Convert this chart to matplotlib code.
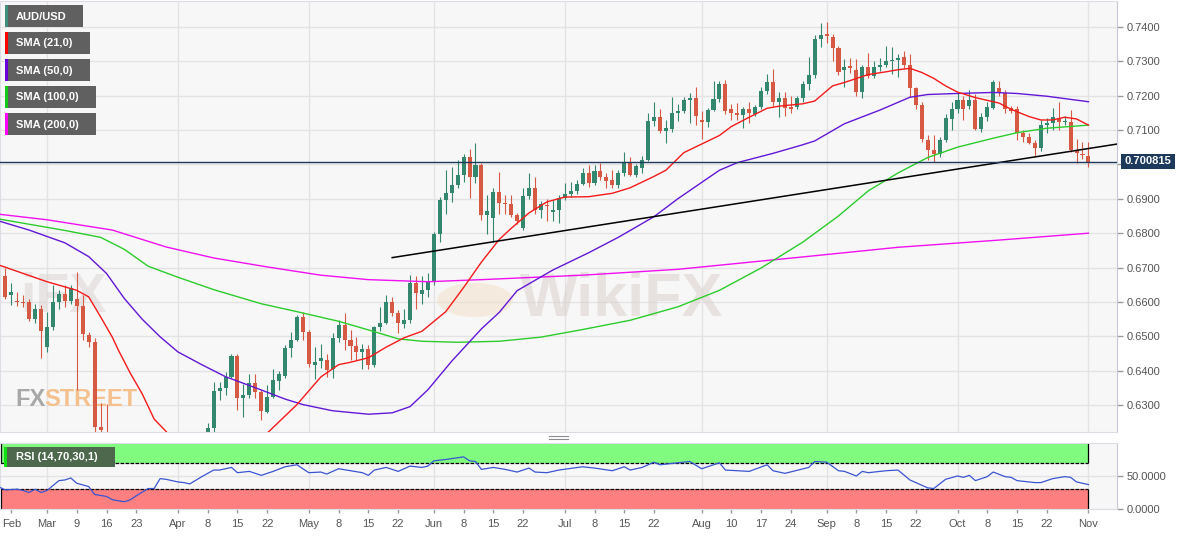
import numpy as np
import pandas as pd
import matplotlib
matplotlib.use('Agg')
import matplotlib.pyplot as plt
from matplotlib.patches import Rectangle, Circle
from matplotlib.lines import Line2D

plt.rcParams['font.family'] = ['Liberation Sans', 'DejaVu Sans']

# --- AUD/USD daily candles, 19 Feb - 2 Nov 2020
dates = pd.bdate_range('2020-02-19', '2020-11-02')

opens = [0.6690, 0.6675, 0.6620, 0.6604, 0.6600, 0.6600, 0.6552, 0.6581,
         0.6470, 0.6528, 0.6600, 0.6622, 0.6602, 0.6610, 0.6588, 0.6503, 0.6484, 0.6237, 0.6180, 0.6080, 0.5960, 0.5780, 0.5790, 0.5800, 0.5830, 0.5940, 0.5900, 0.6050, 0.6150, 0.6140,
         0.6130, 0.6070, 0.6080, 0.6000, 0.6100, 0.6150, 0.6233, 0.6342, 0.6349, 0.6382, 0.6442, 0.6322, 0.6329, 0.6365, 0.6339, 0.6280, 0.6324, 0.6371, 0.6384, 0.6467, 0.6491, 0.6557,
         0.6513, 0.6416, 0.6430, 0.6431, 0.6404, 0.6494, 0.6533, 0.6491, 0.6471, 0.6455, 0.6464, 0.6416, 0.6526, 0.6539, 0.6600, 0.6567, 0.6535, 0.6547, 0.6656, 0.6623, 0.6636,
         0.6661, 0.6797, 0.6896, 0.6917, 0.6940, 0.6969, 0.7020, 0.6962, 0.6998, 0.6852, 0.6843, 0.6920, 0.6888, 0.6884, 0.6852, 0.6814, 0.6907, 0.6930, 0.6867, 0.6883, 0.6862, 0.6867,
         0.6901, 0.6913, 0.6923, 0.6942, 0.6974, 0.6946, 0.6981, 0.6964, 0.6954, 0.6940, 0.6974, 0.7008, 0.6969, 0.6988, 0.7014, 0.7127, 0.7138, 0.7098, 0.7102, 0.7148, 0.7156, 0.7187, 0.7192,
         0.7129, 0.7124, 0.7158, 0.7190, 0.7233, 0.7160, 0.7150, 0.7144, 0.7160, 0.7146, 0.7167, 0.7214, 0.7240, 0.7182, 0.7192, 0.7166, 0.7166, 0.7192, 0.7233, 0.7260, 0.7363,
         0.7378, 0.7371, 0.7337, 0.7274, 0.7285, 0.7274, 0.7211, 0.7282, 0.7257, 0.7282, 0.7289, 0.7300, 0.7304, 0.7311, 0.7289, 0.7221, 0.7172, 0.7070, 0.7041, 0.7030, 0.7070, 0.7131,
         0.7160, 0.7187, 0.7169, 0.7187, 0.7102, 0.7138, 0.7163, 0.7221, 0.7208, 0.7163, 0.7160, 0.7092, 0.7080, 0.7063, 0.7049, 0.7114, 0.7119, 0.7136, 0.7122, 0.7124, 0.7041, 0.7030,
         0.7024]
highs = [0.6702, 0.6700, 0.6654, 0.6630, 0.6620, 0.6610, 0.6595, 0.6590,
         0.6571, 0.6649, 0.6634, 0.6650, 0.6650, 0.6688, 0.6620, 0.6512, 0.6495, 0.6308, 0.6303, 0.6110, 0.6030, 0.5860, 0.5900, 0.5880, 0.5990, 0.5990, 0.6050, 0.6180, 0.6190, 0.6200,
         0.6140, 0.6120, 0.6090, 0.6110, 0.6200, 0.6247, 0.6368, 0.6368, 0.6397, 0.6448, 0.6448, 0.6363, 0.6392, 0.6390, 0.6345, 0.6358, 0.6405, 0.6401, 0.6476, 0.6513, 0.6562, 0.6570,
         0.6520, 0.6470, 0.6479, 0.6450, 0.6511, 0.6547, 0.6567, 0.6518, 0.6498, 0.6477, 0.6475, 0.6530, 0.6586, 0.6620, 0.6615, 0.6578, 0.6581, 0.6678, 0.6676, 0.6675, 0.6683,
         0.6804, 0.6905, 0.6983, 0.6993, 0.7012, 0.7030, 0.7044, 0.7063, 0.7005, 0.6910, 0.6930, 0.6978, 0.6910, 0.6910, 0.6860, 0.6930, 0.6974, 0.6964, 0.6894, 0.6900, 0.6895, 0.6910,
         0.6945, 0.6950, 0.6955, 0.6988, 0.6998, 0.6998, 0.7003, 0.6975, 0.6985, 0.6985, 0.7037, 0.7020, 0.7000, 0.7025, 0.7148, 0.7182, 0.7160, 0.7130, 0.7195, 0.7175, 0.7195, 0.7208, 0.7226,
         0.7155, 0.7165, 0.7243, 0.7243, 0.7245, 0.7175, 0.7178, 0.7167, 0.7180, 0.7172, 0.7225, 0.7264, 0.7276, 0.7210, 0.7210, 0.7198, 0.7200, 0.7243, 0.7313, 0.7375, 0.7412,
         0.7413, 0.7380, 0.7345, 0.7305, 0.7310, 0.7305, 0.7290, 0.7323, 0.7300, 0.7310, 0.7344, 0.7340, 0.7320, 0.7330, 0.7320, 0.7225, 0.7180, 0.7085, 0.7085, 0.7080, 0.7145, 0.7182,
         0.7206, 0.7200, 0.7216, 0.7205, 0.7150, 0.7180, 0.7245, 0.7243, 0.7215, 0.7170, 0.7170, 0.7100, 0.7090, 0.7070, 0.7129, 0.7135, 0.7163, 0.7182, 0.7140, 0.7158, 0.7075, 0.7065,
         0.7065]
lows = [0.6668, 0.6610, 0.6591, 0.6588, 0.6585, 0.6545, 0.6540, 0.6436,
        0.6455, 0.6518, 0.6580, 0.6585, 0.6595, 0.6344, 0.6490, 0.6470, 0.6215, 0.6160, 0.6030, 0.5950, 0.5770, 0.5510, 0.5670, 0.5690, 0.5820, 0.5860, 0.5880, 0.6020, 0.6060, 0.6060,
        0.6040, 0.6030, 0.5980, 0.5990, 0.6090, 0.6120, 0.6220, 0.6315, 0.6329, 0.6378, 0.6285, 0.6266, 0.6322, 0.6320, 0.6256, 0.6277, 0.6320, 0.6344, 0.6378, 0.6439, 0.6488, 0.6490,
        0.6410, 0.6375, 0.6407, 0.6382, 0.6380, 0.6485, 0.6460, 0.6431, 0.6431, 0.6404, 0.6405, 0.6410, 0.6515, 0.6535, 0.6560, 0.6510, 0.6525, 0.6540, 0.6580, 0.6595, 0.6615,
        0.6650, 0.6775, 0.6857, 0.6890, 0.6930, 0.6950, 0.6901, 0.6945, 0.6838, 0.6799, 0.6775, 0.6857, 0.6855, 0.6846, 0.6828, 0.6810, 0.6900, 0.6855, 0.6843, 0.6835, 0.6835, 0.6830,
        0.6895, 0.6905, 0.6915, 0.6940, 0.6935, 0.6940, 0.6955, 0.6932, 0.6932, 0.6932, 0.6965, 0.6965, 0.6962, 0.6975, 0.7010, 0.7111, 0.7090, 0.7061, 0.7095, 0.7125, 0.7150, 0.7119, 0.7115,
        0.7075, 0.7110, 0.7155, 0.7180, 0.7145, 0.7130, 0.7130, 0.7107, 0.7120, 0.7140, 0.7160, 0.7205, 0.7170, 0.7137, 0.7140, 0.7148, 0.7160, 0.7180, 0.7216, 0.7250, 0.7340,
        0.7352, 0.7300, 0.7260, 0.7226, 0.7265, 0.7200, 0.7192, 0.7250, 0.7250, 0.7270, 0.7282, 0.7264, 0.7255, 0.7280, 0.7196, 0.7160, 0.7065, 0.7012, 0.7007, 0.7020, 0.7065, 0.7100,
        0.7150, 0.7129, 0.7160, 0.7100, 0.7095, 0.7125, 0.7160, 0.7200, 0.7150, 0.7150, 0.7070, 0.7065, 0.7060, 0.7022, 0.7040, 0.7090, 0.7100, 0.7100, 0.7115, 0.7035, 0.7003, 0.7017,
        0.6991]
closes = [0.6673, 0.6615, 0.6630, 0.6600, 0.6597, 0.6552, 0.6579, 0.6516,
          0.6527, 0.6601, 0.6622, 0.6602, 0.6640, 0.6588, 0.6506, 0.6484, 0.6237, 0.6228, 0.6080, 0.5960, 0.5780, 0.5790, 0.5800, 0.5830, 0.5940, 0.5900, 0.6050, 0.6150, 0.6140, 0.6130,
          0.6070, 0.6080, 0.6000, 0.6100, 0.6150, 0.6233, 0.6342, 0.6349, 0.6382, 0.6442, 0.6322, 0.6329, 0.6365, 0.6339, 0.6283, 0.6324, 0.6373, 0.6390, 0.6467, 0.6491, 0.6557, 0.6513,
          0.6421, 0.6426, 0.6436, 0.6402, 0.6494, 0.6533, 0.6491, 0.6471, 0.6455, 0.6464, 0.6416, 0.6526, 0.6539, 0.6600, 0.6567, 0.6538, 0.6547, 0.6656, 0.6625, 0.6636, 0.6661,
          0.6797, 0.6896, 0.6917, 0.6940, 0.6969, 0.7020, 0.6962, 0.6998, 0.6852, 0.6864, 0.6920, 0.6888, 0.6884, 0.6852, 0.6836, 0.6907, 0.6930, 0.6867, 0.6884, 0.6880, 0.6867, 0.6901,
          0.6914, 0.6923, 0.6942, 0.6974, 0.6946, 0.6981, 0.6964, 0.6951, 0.6940, 0.6976, 0.7008, 0.6969, 0.6995, 0.7014, 0.7127, 0.7138, 0.7098, 0.7107, 0.7148, 0.7156, 0.7187, 0.7192, 0.7140,
          0.7124, 0.7158, 0.7190, 0.7233, 0.7156, 0.7150, 0.7144, 0.7160, 0.7148, 0.7167, 0.7214, 0.7240, 0.7182, 0.7192, 0.7163, 0.7160, 0.7192, 0.7233, 0.7260, 0.7363, 0.7376,
          0.7374, 0.7337, 0.7269, 0.7282, 0.7280, 0.7211, 0.7282, 0.7257, 0.7282, 0.7289, 0.7301, 0.7304, 0.7308, 0.7289, 0.7221, 0.7172, 0.7075, 0.7041, 0.7030, 0.7070, 0.7134, 0.7160,
          0.7187, 0.7160, 0.7187, 0.7102, 0.7138, 0.7166, 0.7240, 0.7208, 0.7160, 0.7155, 0.7092, 0.7080, 0.7063, 0.7049, 0.7114, 0.7119, 0.7138, 0.7124, 0.7126, 0.7041, 0.7034, 0.7026,
          0.700815]

# --- moving averages, (day index, value)
sma21 = [(0, 0.6707), (8, 0.6659), (13, 0.6634), (15, 0.6615), (17, 0.6557), (19, 0.6497), (20, 0.6460),
         (22, 0.6393), (24, 0.6333), (26, 0.6260), (28, 0.6224), (30, 0.6180), (35, 0.6090), (40, 0.6110),
         (45, 0.6219), (50, 0.6302), (54, 0.6382), (57, 0.6418), (59, 0.6425), (62, 0.6438), (65, 0.6469),
         (68, 0.6496), (71, 0.6515), (75, 0.6572), (78, 0.6642), (81, 0.6716), (84, 0.6782), (86, 0.6814),
         (89, 0.6859), (92, 0.6891), (95, 0.6905), (99, 0.6906), (103, 0.6916), (106, 0.6932), (110, 0.6965),
         (112, 0.6983), (115, 0.7034), (118, 0.7059), (121, 0.7084), (123, 0.7110), (126, 0.7137), (129, 0.7163),
         (131, 0.7169), (135, 0.7176), (137, 0.7184), (140, 0.7228), (142, 0.7238), (146, 0.7261), (149, 0.7269),
         (151, 0.7275), (153, 0.7279), (155, 0.7267), (157, 0.7250), (159, 0.7228), (161, 0.7210), (164, 0.7194),
         (166, 0.7186), (168, 0.7178), (170, 0.7160), (173, 0.7139), (175, 0.7129), (177, 0.7129), (179, 0.7137),
         (181, 0.7132), (183, 0.7114)]
sma50 = [(0, 0.6835), (5, 0.6809), (11, 0.6772), (15, 0.6732), (18, 0.6683), (21, 0.6610), (24, 0.6550),
         (27, 0.6499), (30, 0.6455), (34, 0.6418), (38, 0.6383), (43, 0.6351), (48, 0.6318), (51, 0.6302),
         (56, 0.6284), (62, 0.6274), (66, 0.6278), (69, 0.6296), (72, 0.6345), (76, 0.6428), (81, 0.6522),
         (84, 0.6570), (87, 0.6633), (93, 0.6693), (99, 0.6743), (104, 0.6788), (110, 0.6848), (114, 0.6900),
         (121, 0.6983), (124, 0.7005), (130, 0.7032), (135, 0.7057), (137, 0.7068), (142, 0.7118), (148, 0.7158),
         (153, 0.7195), (156, 0.7203), (161, 0.7206), (167, 0.7209), (171, 0.7206), (176, 0.7198), (183, 0.7182)]
sma100 = [(0, 0.6841), (11, 0.6808), (17, 0.6788), (21, 0.6753), (25, 0.6704), (30, 0.6672), (36, 0.6636),
          (44, 0.6595), (50, 0.6572), (57, 0.6544), (62, 0.6519), (67, 0.6493), (71, 0.6486), (77, 0.6483),
          (84, 0.6486), (91, 0.6498), (98, 0.6520), (106, 0.6547), (114, 0.6586), (121, 0.6634), (128, 0.6699),
          (135, 0.6774), (141, 0.6850), (146, 0.6923), (151, 0.6975), (156, 0.7020), (161, 0.7050), (167, 0.7076),
          (171, 0.7092), (176, 0.7105), (183, 0.7114)]
sma200 = [(0, 0.6855), (8, 0.6839), (19, 0.6809), (28, 0.6760), (36, 0.6728), (45, 0.6702), (54, 0.6678),
          (62, 0.6665), (72, 0.6659), (81, 0.6665), (98, 0.6678), (114, 0.6695), (135, 0.6731), (151, 0.6759),
          (168, 0.6780), (183, 0.6800)]

# rising trendline under the June-October lows
trend = [(66, 0.6729), (183, 0.7046)]

# --- RSI(14), (day index, value)
rsi = [(0, 33), (1, 29), (3, 30), (4, 28), (5, 25), (6, 30), (7, 25), (8, 28), (10, 43), (11, 44), (12, 47),
       (13, 39), (15, 34), (16, 22), (18, 19), (19, 14), (21, 11), (22, 14), (23, 20), (25, 31), (26, 31),
       (27, 46), (28, 45), (30, 41), (31, 40), (32, 38), (34, 49), (36, 59), (37, 59), (39, 63), (40, 55),
       (42, 57), (44, 51), (46, 57), (48, 64), (50, 67), (52, 55), (54, 56), (55, 53), (57, 61), (59, 58),
       (61, 55), (62, 51), (63, 59), (65, 63), (67, 57), (69, 65), (71, 63), (72, 65), (73, 73), (75, 75),
       (78, 79), (79, 73), (80, 72), (81, 60), (83, 63), (85, 60), (87, 56), (89, 62), (90, 56), (92, 55),
       (94, 59), (98, 64), (100, 62), (103, 58), (105, 64), (106, 59), (108, 63), (110, 71), (111, 67),
       (113, 69), (116, 72), (118, 61), (121, 70), (122, 59), (124, 58), (126, 57), (129, 67), (130, 58),
       (132, 54), (136, 63), (137, 72), (139, 71), (141, 58), (142, 57), (144, 50), (145, 57), (146, 55),
       (149, 58), (151, 59), (153, 44), (156, 32), (157, 31), (159, 45), (161, 50), (162, 48), (163, 51),
       (164, 43), (166, 49), (167, 56), (169, 49), (170, 48), (171, 43), (174, 40), (175, 40), (177, 46),
       (179, 49), (180, 48), (181, 41), (183, 37)]

tick_dates = ['2020-02-21', '2020-03-02', '2020-03-09', '2020-03-16', '2020-03-23', '2020-04-01', '2020-04-08',
              '2020-04-15', '2020-04-22', '2020-05-01', '2020-05-08', '2020-05-15', '2020-05-22', '2020-06-01',
              '2020-06-08', '2020-06-15', '2020-06-22', '2020-07-01', '2020-07-08', '2020-07-15', '2020-07-22',
              '2020-08-03', '2020-08-10', '2020-08-17', '2020-08-24', '2020-09-01', '2020-09-08', '2020-09-15',
              '2020-09-22', '2020-10-01', '2020-10-08', '2020-10-15', '2020-10-22', '2020-11-02']
tick_labels = ['Feb', 'Mar', '9', '16', '23', 'Apr', '8', '15', '22', 'May', '8', '15', '22', 'Jun', '8', '15',
               '22', 'Jul', '8', '15', '22', 'Aug', '10', '17', '24', 'Sep', '8', '15', '22', 'Oct', '8', '15',
               '22', 'Nov']

# --- figure layout in pixels
W, H = 1194, 536
def fx(px):
    return px / W
def fy(py):
    return 1 - py / H

fig = plt.figure(figsize=(W / 100, H / 100), dpi=100)
fig.patch.set_facecolor('white')
ax = fig.add_axes([0, fy(432), fx(1117), fy(1) - fy(432)])
ax2 = fig.add_axes([0, fy(509), fx(1117), fy(443) - fy(509)])

xlim = (0.1, 187.8)
grid_c = '#e3e3e6'
tick_pos = dates.get_indexer(pd.to_datetime(tick_dates))
month_pos = [p for p, l in zip(tick_pos, tick_labels) if not l.isdigit() and l != 'Feb']

for a in (ax, ax2):
    a.set_facecolor('#f7f7f7')
    a.set_xlim(*xlim)
    for s in a.spines.values():
        s.set_color('#dcdde5')
    a.spines['right'].set_color('#c5c8d6')
    for p in month_pos:
        a.axvline(p, color=grid_c, lw=1, zorder=0)

last = closes[-1]

# --- price panel
ax.set_ylim(0.62223, 0.74747)
yt = np.round(np.arange(0.63, 0.7401, 0.01), 2)
ax.set_yticks(yt)
# the 0.7000 label sits under the last-price tag
ax.set_yticklabels(['' if abs(v - last) < 0.003 else f'{v:.4f}' for v in yt])
for v in yt:
    ax.axhline(v, color=grid_c, lw=1, zorder=0)
ax.yaxis.tick_right()
ax.tick_params(axis='y', length=4, width=1, color='#9a9a9a', labelsize=8, labelcolor='#555555', pad=3)
ax.tick_params(axis='x', length=0, labelbottom=False)
ax.set_xticks([])

bull, bear = '#34876f', '#d65a43'
for i in range(len(dates)):
    o, h, l, c = opens[i], highs[i], lows[i], closes[i]
    col = bull if c >= o else bear
    ax.vlines(i, l, h, color=col, lw=0.8, zorder=2)
    ax.bar(i, max(abs(c - o), 0.00025), bottom=min(o, c), width=0.68, color=col, lw=0, zorder=2)

for pts, col in [(sma200, '#f010f0'), (sma100, '#2ccc2c'), (sma50, '#6218d6'), (sma21, '#f41a1a')]:
    ax.plot([p[0] for p in pts], [p[1] for p in pts], color=col, lw=1.0, zorder=3)

(t0, p0), (t1, p1) = trend
slope = (p1 - p0) / (t1 - t0)
ax.plot([t0, xlim[1]], [p0, p0 + slope * (xlim[1] - t0)], color='black', lw=1.1, zorder=3)

ax.axhline(last, color='#1d3a5c', lw=1, zorder=3)

# --- RSI panel
ax2.set_ylim(0, 100)
for v in (0, 50):
    ax2.axhline(v, color=grid_c, lw=1, zorder=0)
x_last = len(dates) - 1
ax2.add_patch(Rectangle((xlim[0], 70), x_last - xlim[0], 30, color='#80fb80', lw=0, zorder=1))
ax2.add_patch(Rectangle((xlim[0], 0), x_last - xlim[0], 30, color='#fd7f7f', lw=0, zorder=1))
ax2.hlines([70, 30], xlim[0], x_last, colors='black', lw=0.9, linestyles=(0, (3, 1)), zorder=2)
for x in (xlim[0] + 0.1, x_last):
    ax2.vlines(x, 70, 100, colors='black', lw=0.9, zorder=2)
    ax2.vlines(x, 0, 30, colors='black', lw=0.9, zorder=2)
ax2.plot([p[0] for p in rsi], [p[1] for p in rsi], color='#3a55d2', lw=0.9, zorder=3)

ax2.yaxis.tick_right()
ax2.set_yticks([0, 50])
ax2.set_yticklabels(['0.0000', '50.0000'])
ax2.tick_params(axis='y', length=4, width=1, color='#9a9a9a', labelsize=8, labelcolor='#555555', pad=3)
ax2.set_xticks(tick_pos)
ax2.set_xticklabels(tick_labels)
ax2.tick_params(axis='x', length=3, width=1, color='#9a9a9a', labelsize=8, labelcolor='#555555', pad=4)

# --- label boxes (pixel coords)
def box(x0, y0, x1, y1, color, alpha=1.0):
    fig.patches.append(Rectangle((fx(x0), fy(y1)), fx(x1) - fx(x0), fy(y0) - fy(y1),
                                 transform=fig.transFigure, color=color, alpha=alpha, lw=0, zorder=5))

legend = [('AUD/USD', 5, 83, '#3f8f7c'), ('SMA (21,0)', 32, 90, '#ff0000'), ('SMA (50,0)', 59, 90, '#6a00d8'),
          ('SMA (100,0)', 86, 96, '#18c818'), ('SMA (200,0)', 113, 96, '#ff00ff')]
for txt, y0, x1, col in legend:
    box(5, y0, x1, y0 + 22, '#606060')
    box(5, y0, 8, y0 + 22, col)
    fig.text(fx(16), fy(y0 + 11.5), txt, color='white', fontsize=8, fontweight='bold', va='center', ha='left', zorder=6)

box(4, 447, 115, 467, '#4d684d')
box(4, 447, 7, 467, '#10e010')
fig.text(fx(16), fy(457.5), 'RSI (14,70,30,1)', color='white', fontsize=8, fontweight='bold', va='center', ha='left', zorder=6)

box(1121, 154, 1175, 169, '#1d3a5c')
fig.text(fx(1148), fy(161.5), f'{last:.6f}', color='white', fontsize=8, fontweight='bold', va='center', ha='center', zorder=6)

# panel resize handle
for yy in (435.5, 438.5):
    fig.add_artist(Line2D([fx(549), fx(568)], [fy(yy), fy(yy)], color='#8a8a8a', lw=0.8))

# --- watermarks
ax.text(fx(15), fy(400), 'FX', transform=fig.transFigure, fontsize=17, fontweight='bold',
        color='#a8a8a8', va='center', ha='left', zorder=1)
ax.text(fx(44), fy(400), 'STREET', transform=fig.transFigure, fontsize=17, fontweight='bold',
        color='#f3c08e', va='center', ha='left', zorder=1)
ax.add_patch(Circle((fx(475), fy(300)), fx(38), transform=fig.transFigure, color='#f4dcc0', alpha=0.45, lw=0, zorder=1))
ax.text(fx(520), fy(300), 'WikiFX', transform=fig.transFigure, fontsize=44, fontweight='bold',
        color='#d9cfca', alpha=0.5, va='center', ha='left', zorder=1)
ax.text(fx(20), fy(298), 'iFX', transform=fig.transFigure, fontsize=40, fontweight='bold',
        color='#d4cfcc', alpha=0.45, va='center', ha='left', zorder=1)

fig.savefig('out.png', dpi=100)
